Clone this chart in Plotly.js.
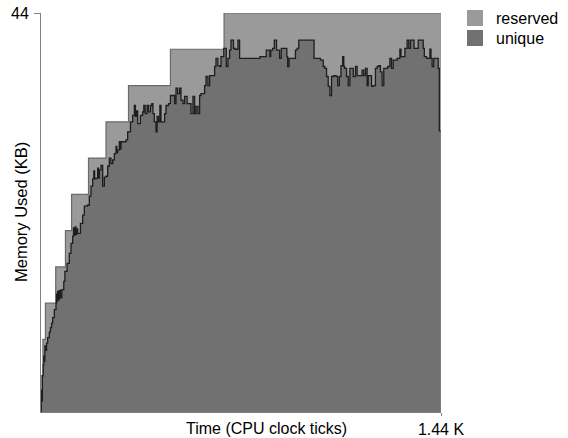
<!DOCTYPE html>
<html><head><meta charset="utf-8">
<script src="https://cdn.plot.ly/plotly-3.0.1.min.js"></script>
<style>html,body{margin:0;padding:0;background:#fff}#chart{width:568px;height:438px}</style>
</head><body><div id="chart"></div>
<script>
// ---- data ----
const seriesNames = ['reserved', 'unique'];
const reservedTime = [0, 7, 16, 53, 88, 110, 171, 234, 315, 466, 659, 1440];
const reservedKB   = [4, 8, 12, 16, 20, 24, 28, 32, 36, 40, 44, 44];

const uniqueTime = [
  0,1,3,5,8,10,12,14,18,20,24,30,34,38,42,48,54,56,58,60,63,66,70,75,82,86,94,102,108,114,117,120,123,126,129,132,
  142,150,156,166,174,180,186,190,193,198,204,207,210,216,222,228,234,240,246,252,258,264,270,273,276,282,285,288,
  306,312,322,330,336,340,344,348,354,358,366,370,375,382,387,394,399,403,408,414,418,423,428,432,445,450,459,466,
  471,481,486,492,499,504,511,517,526,535,540,547,553,558,565,571,576,589,594,601,607,612,625,630,637,643,648,658,
  667,673,679,684,693,699,709,715,788,811,824,827,834,840,848,859,865,885,888,893,916,922,928,983,1006,1016,1022,
  1028,1034,1040,1046,1054,1062,1068,1074,1080,1086,1090,1093,1100,1106,1112,1124,1132,1138,1156,1162,1168,1174,
  1178,1190,1196,1204,1210,1216,1222,1228,1234,1248,1256,1262,1268,1282,1292,1296,1310,1318,1324,1330,1343,1358,
  1376,1380,1388,1400,1404,1408,1414,1430,1434,1439,1440
];
const uniqueKB = [
  0,2.4,1.2,4.0,5.2,6.2,5.6,7.3,6.8,7.6,8.2,8.8,9.3,9.8,10.4,11.3,12.0,13.0,12.2,13.3,12.4,13.4,12.6,13.5,14.4,15.5,16.4,17.5,18.6,19.4,20.3,19.5,20.4,19.6,20.2,19.7,
  20.8,21.7,22.7,22.8,23.8,24.9,25.7,26.6,25.7,25.8,26.9,25.8,26.7,27.2,24.9,25.9,26.0,27.1,28.0,27.4,27.8,28.5,29.3,28.6,28.9,29.8,29.0,29.8,
  30.0,30.9,32.0,32.7,33.8,32.6,33.2,31.8,31.8,32.7,33.1,33.8,32.9,33.8,33.1,33.8,34.0,32.9,32.0,30.9,32.6,32.0,33.8,32.0,32.9,33.8,34.0,
  34.9,34.9,34.0,35.7,35.1,35.7,34.4,34.0,34.8,34.0,34.0,32.9,34.8,32.9,33.7,32.9,34.9,35.1,36.0,37.0,36.0,37.1,37.1,38.1,39.0,38.2,38.1,39.2,
  40.1,38.1,39.0,39.9,41.0,40.1,40.0,41.0,39.0,39.2,39.9,39.2,39.9,40.1,41.0,39.9,39.0,40.1,39.2,38.1,39.0,39.9,40.1,41.0,39.0,38.8,38.1,
  37.9,37.0,35.9,34.9,37.0,37.1,37.0,36.0,37.0,38.2,39.2,38.1,37.9,37.0,36.0,37.9,37.0,38.1,37.1,37.7,37.1,37.9,
  36.0,37.1,35.9,36.0,37.9,38.1,38.2,37.5,36.0,37.9,38.1,39.0,37.9,38.8,39.0,40.0,39.2,40.1,41.0,40.1,41.0,40.1,
  41.0,40.1,39.2,39.0,40.0,39.0,38.1,39.0,37.9,31.0,31.0
];
const xTickVals = [1440], xTickText = ['1.44 K'];
const yTickVals = [44],   yTickText = ['44'];
const xTitle = 'Time (CPU clock ticks)';
const yTitle = 'Memory Used (KB)';

// ---- styles ----
const FONT = 'Arial, "Liberation Sans", sans-serif';
const FS = 16;
const reservedColor = '#9a9a9a';
const uniqueColor = '#717171';

const traces = [
  {x: reservedTime, y: reservedKB, name: seriesNames[0], type: 'scatter', mode: 'lines',
   line: {shape: 'hv', color: '#6a6a6a', width: 1.2}, fill: 'tozeroy', fillcolor: reservedColor,
   hoverinfo: 'skip', showlegend: false},
  {x: uniqueTime, y: uniqueKB, name: seriesNames[1], type: 'scatter', mode: 'lines',
   line: {shape: 'hv', color: '#1e1e1e', width: 1.3}, fill: 'tozeroy', fillcolor: uniqueColor,
   hoverinfo: 'skip', showlegend: false}
];

function px2x(p){ return (p - 41) / 400; }
function py2y(p){ return (412 - p) / 399; }

const layout = {
  width: 568, height: 438,
  margin: {l: 41, r: 127, t: 13, b: 26, pad: 0},
  paper_bgcolor: '#fff', plot_bgcolor: '#fff',
  font: {family: FONT, size: FS, color: '#000'},
  showlegend: false,
  xaxis: {range: [0, 1440], tickvals: xTickVals, ticktext: xTickText, ticks: 'outside', ticklen: 3,
          tickcolor: '#808080', showline: true, linecolor: '#808080', linewidth: 1, showgrid: false,
          zeroline: false, tickfont: {family: FONT, size: FS, color: '#000'}, ticklabelstandoff: 0, fixedrange: true},
  yaxis: {range: [0, 44], tickvals: yTickVals, ticktext: yTickText, ticks: 'outside', ticklen: 6,
          tickcolor: '#808080', showline: true, linecolor: '#808080', linewidth: 1, showgrid: false,
          zeroline: false, tickfont: {family: FONT, size: FS, color: '#000'}, ticklabelstandoff: 2, fixedrange: true},
  shapes: [
    {type: 'rect', xref: 'paper', yref: 'paper', x0: px2x(467), x1: px2x(483), y0: py2y(26), y1: py2y(10),
     fillcolor: reservedColor, line: {width: 0}},
    {type: 'rect', xref: 'paper', yref: 'paper', x0: px2x(467), x1: px2x(483), y0: py2y(46), y1: py2y(30),
     fillcolor: uniqueColor, line: {width: 0}}
  ],
  annotations: [
    {text: seriesNames[0], xref: 'paper', yref: 'paper', x: px2x(494), y: py2y(18), xanchor: 'left', yanchor: 'middle',
     showarrow: false, font: {family: FONT, size: FS, color: '#000'}},
    {text: seriesNames[1], xref: 'paper', yref: 'paper', x: px2x(494), y: py2y(38), xanchor: 'left', yanchor: 'middle',
     showarrow: false, font: {family: FONT, size: FS, color: '#000'}},
    {text: xTitle, xref: 'paper', yref: 'paper', x: px2x(266), y: py2y(428.5), xanchor: 'center', yanchor: 'middle',
     showarrow: false, font: {family: FONT, size: FS, color: '#000'}},
    {text: yTitle, xref: 'paper', yref: 'paper', x: px2x(21), y: py2y(212), xanchor: 'center', yanchor: 'middle',
     textangle: -90, showarrow: false, font: {family: FONT, size: 16.5, color: '#000'}}
  ]
};

Plotly.newPlot('chart', traces, layout, {staticPlot: true, displayModeBar: false});
</script>
</body></html>
